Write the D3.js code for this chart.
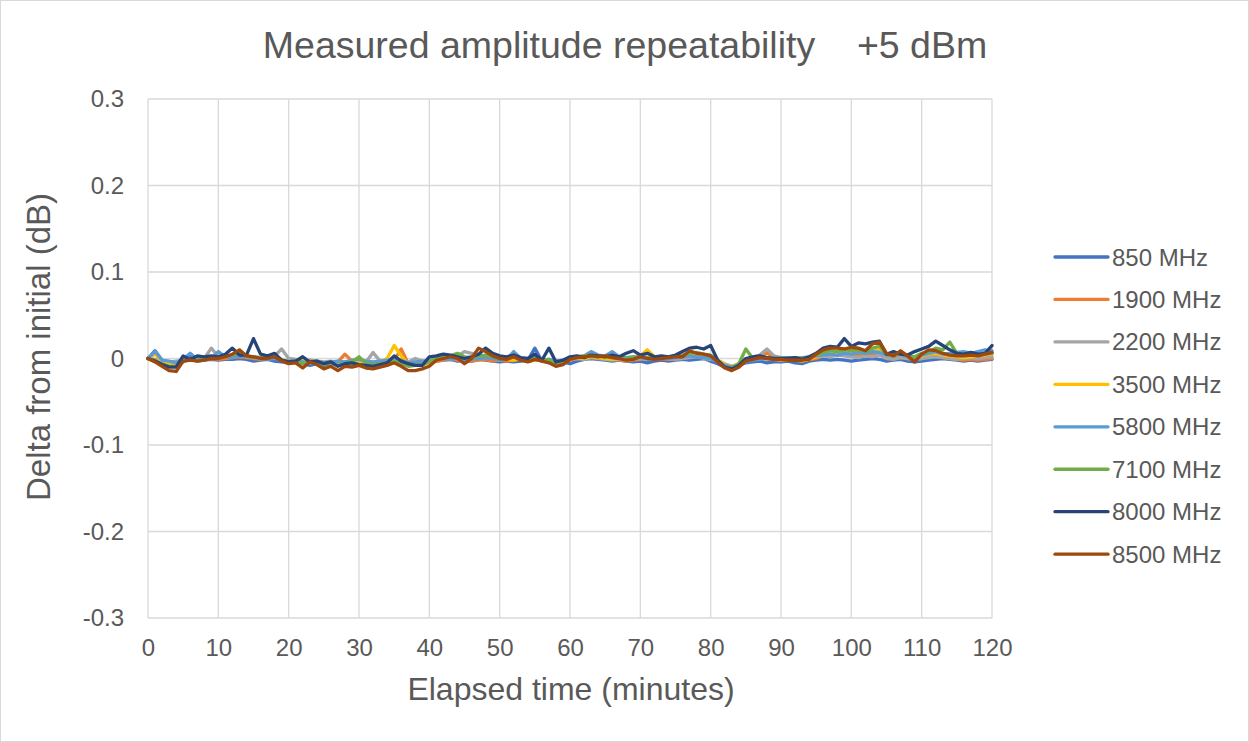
<!DOCTYPE html>
<html><head><meta charset="utf-8">
<script src="https://cdn.jsdelivr.net/npm/d3@7"></script>
<style>body{margin:0;background:#fff;font-family:"Liberation Sans",Arial,sans-serif;}svg{display:block}</style>
</head><body><svg id="c" width="1249" height="742"></svg>
<script>
// values in thousandths of a dB (mdB), one per minute, 0..120
const minutes = d3.range(0, 121);
const s850 = [0,9,-2,-5,-6,-4,3,-3,-2,-1,-2,-1,-1,0,-1,-3,-2,-1,-3,-4,-4,-3,-6,-8,-6,-8,-6,-7,-7,-8,-6,-7,-8,-8,-6,-4,-6,-8,-7,-7,-4,-3,-2,-1,-3,-2,-3,-1,-2,-3,-4,-3,-4,-3,-2,12,-3,-2,-5,-4,-6,-3,-1,0,-1,-2,-3,-2,-3,-4,-3,-5,-3,-2,-3,-2,-1,-2,-1,0,-3,-6,-10,-11,-8,-5,-4,-3,-5,-4,-4,-3,-5,-6,-3,-2,-1,-2,-1,-2,-3,-2,-1,0,-1,-3,-2,-1,-3,-4,-3,-2,-1,0,-1,-2,-3,-2,-3,-2,-1];
const s1900 = [0,-1,-3,-4,-5,-2,-1,-2,-1,0,-1,0,1,2,1,0,-1,0,1,-2,-4,-3,-5,-2,-4,-6,-5,-4,5,-3,-4,-6,-5,-6,-4,-2,11,-6,-7,-6,-5,-3,-2,-1,-2,-4,-3,-2,-1,-3,-2,-3,-2,-1,-3,-2,-1,-3,-5,-3,-2,0,1,2,1,0,-1,-2,-3,-2,-1,0,-1,0,-1,0,1,2,3,4,2,-3,-8,-10,-6,-2,0,1,7,0,-1,-2,-1,-2,-1,0,3,5,6,4,3,5,4,6,5,3,2,1,0,-1,0,2,3,1,0,-1,-2,-1,-2,-1,0];
const s2200 = [0,-2,-3,-4,-3,-2,-1,-2,0,12,2,3,2,4,3,2,1,2,3,11,0,-1,-3,-2,-3,-4,-3,-5,-4,-3,-2,-4,7,-3,-2,-1,-3,-4,0,-3,-2,0,2,1,3,8,6,4,3,2,0,-1,1,-1,0,1,-2,-1,-3,-2,-1,0,-1,1,0,-1,-2,-1,-2,-1,0,-1,0,1,0,-1,0,1,2,0,-1,-2,-6,-9,-7,-1,2,4,11,3,1,0,-1,0,1,2,3,2,4,3,2,1,3,2,4,0,-1,1,0,-1,0,1,2,1,0,-1,0,1,0,1,2];
const s3500 = [0,5,-3,-6,-8,-3,-2,-1,0,1,1,2,3,4,2,1,0,1,2,-1,-3,-2,-1,-4,-3,-5,-6,-4,-5,-6,-4,-6,-5,-4,0,15,3,-7,-8,-7,-5,-2,0,1,0,-2,-1,2,3,1,0,-1,-2,0,-3,-2,-1,-2,-4,-3,-1,1,0,2,1,0,-1,0,1,2,3,10,2,1,2,1,3,4,5,4,3,-2,-7,-9,-6,-2,0,1,0,-1,-2,-1,-2,-3,-1,2,4,6,5,7,6,8,7,9,10,4,3,5,2,1,3,5,6,4,3,2,1,2,3,4,6];
const s5800 = [0,8,-2,-3,-5,-1,6,-1,2,0,8,2,1,3,2,1,0,-1,0,-2,-3,-2,-4,-6,-3,-5,-4,-3,-4,-2,-1,-3,-4,-3,-2,0,-2,-5,-4,-3,-3,-1,0,-1,0,-2,-1,0,1,0,-2,-1,8,0,-1,2,-2,-1,-3,-2,0,2,3,8,4,3,8,2,1,2,1,0,1,2,0,1,2,3,2,1,0,-4,-8,-10,-7,-4,-2,-1,0,-1,0,1,0,1,2,3,4,5,4,6,5,7,6,8,7,4,3,5,2,1,4,6,8,5,6,7,8,6,8,10,9];
const s7100 = [0,-3,-6,-9,-9,-3,-2,-2,-1,1,2,3,4,6,3,2,1,2,3,-2,-4,-3,-6,-4,-5,-7,-5,-8,-6,-4,2,-6,-7,-6,-5,-3,-5,-9,-8,-7,-4,0,2,3,6,2,1,3,4,2,0,1,2,0,-1,1,-1,-2,-5,-3,0,2,3,4,3,2,1,0,0,1,2,1,0,1,2,3,4,6,7,5,4,-3,-10,-12,-6,11,0,2,1,0,-1,0,1,0,1,4,7,9,8,10,9,10,8,12,14,5,4,6,3,2,6,8,12,10,19,6,4,5,4,5,6];
const s8000 = [0,-3,-7,-10,-10,3,-1,3,2,3,2,5,12,4,4,23,5,3,6,-2,-4,-3,2,-4,-3,-6,-4,-9,-6,-5,-7,-8,-9,-7,-5,3,-3,-6,-8,-8,2,3,5,4,2,0,2,5,12,6,3,2,4,1,0,5,-2,12,-4,-2,2,3,1,4,3,2,4,2,6,9,4,6,2,3,2,4,8,12,13,11,15,-2,-10,-12,-8,0,2,3,1,0,0,0,1,-1,2,6,12,14,13,23,14,18,17,19,20,5,8,5,4,8,11,14,20,15,10,6,5,7,5,6,15];
const s8500 = [0,-4,-9,-14,-15,-3,-2,-3,-2,0,0,2,5,10,3,2,0,0,2,-3,-6,-5,-11,-4,-7,-12,-9,-14,-9,-10,-8,-11,-12,-10,-8,-5,-9,-14,-14,-12,-9,-2,0,2,0,-6,0,12,8,3,0,-1,2,-2,-4,-1,-3,-5,-9,-7,-1,1,2,3,2,3,1,0,-2,-1,2,0,-1,0,1,2,2,9,6,5,3,-4,-11,-14,-10,-3,-1,1,0,-1,-1,-2,-2,-2,-1,5,10,12,12,11,13,12,9,17,19,6,3,9,3,-4,5,10,9,6,4,3,3,4,3,5,7];
const seriesNames = ["850 MHz","1900 MHz","2200 MHz","3500 MHz","5800 MHz","7100 MHz","8000 MHz","8500 MHz"];
const seriesValues = [s850,s1900,s2200,s3500,s5800,s7100,s8000,s8500];
const seriesColors = ["#4472C4","#ED7D31","#A5A5A5","#FFC000","#5B9BD5","#70AD47","#264478","#9E480E"];
const xTicks = [0,10,20,30,40,50,60,70,80,90,100,110,120];
const yTicks = [-0.3,-0.2,-0.1,0,0.1,0.2,0.3];

const svg = d3.select("#c");
const W=1249,H=742;
svg.append("rect").attr("x",0.5).attr("y",0.5).attr("width",W-1).attr("height",H-1).attr("fill","#fff").attr("stroke","#d9d9d9");
const L=148,R=992,T=99,B=618;
const x=d3.scaleLinear().domain([0,120]).range([L,R]);
const y=d3.scaleLinear().domain([-0.3,0.3]).range([B,T]);
const tc="#595959";
const ff="'Liberation Sans',Arial,sans-serif";

// gridlines
svg.append("g").selectAll("line").data(yTicks).join("line")
 .attr("x1",L).attr("x2",R).attr("y1",d=>y(d)).attr("y2",d=>y(d)).attr("stroke","#d9d9d9").attr("stroke-width",1.3);
svg.append("g").selectAll("line").data(xTicks).join("line")
 .attr("y1",T).attr("y2",B).attr("x1",d=>x(d)).attr("x2",d=>x(d)).attr("stroke","#d9d9d9").attr("stroke-width",1.3);

// axes (labels only)
const ya=svg.append("g").attr("transform",`translate(${L},0)`).call(d3.axisLeft(y).tickValues(yTicks).tickSize(0).tickPadding(24).tickFormat(d=>Math.abs(d)<1e-9?"0":d.toFixed(1)));
ya.select(".domain").remove();
ya.selectAll("text").attr("fill",tc).style("font-size","24px").style("font-family",ff);
const xa=svg.append("g").attr("transform",`translate(0,${B})`).call(d3.axisBottom(x).tickValues(xTicks).tickSize(0).tickPadding(21));
xa.select(".domain").remove();
xa.selectAll("text").attr("fill",tc).style("font-size","24px").style("font-family",ff);

// lines
const line=d3.line().x((d,i)=>x(minutes[i])).y(d=>y(d/1000));
svg.append("g").selectAll("path").data(seriesValues).join("path")
 .attr("d",d=>line(d)).attr("fill","none").attr("stroke",(d,i)=>seriesColors[i]).attr("stroke-width",3.3).attr("stroke-linejoin","round").attr("stroke-linecap","round");

// titles
svg.append("text").attr("x",625).attr("y",58).attr("text-anchor","middle").attr("fill",tc).style("font-size","37.5px").style("font-family",ff).style("white-space","pre")
 .text("Measured amplitude repeatability    +5 dBm");
svg.append("text").attr("x",571).attr("y",700).attr("text-anchor","middle").attr("fill",tc).style("font-size","32px").style("font-family",ff).text("Elapsed time (minutes)");
svg.append("text").attr("transform",`translate(50,347) rotate(-90)`).attr("text-anchor","middle").attr("fill",tc).style("font-size","33px").style("font-family",ff).text("Delta from initial (dB)");

// legend
const lg=svg.append("g").selectAll("g").data(seriesNames).join("g").attr("transform",(d,i)=>`translate(1055,${257+i*42.45})`);
lg.append("line").attr("x1",0).attr("x2",53).attr("stroke",(d,i)=>seriesColors[i]).attr("stroke-width",3.3).attr("stroke-linecap","round");
lg.append("text").attr("x",57).attr("y",8.5).attr("fill",tc).style("font-size","24px").style("font-family",ff).text(d=>d);
</script></body></html>
